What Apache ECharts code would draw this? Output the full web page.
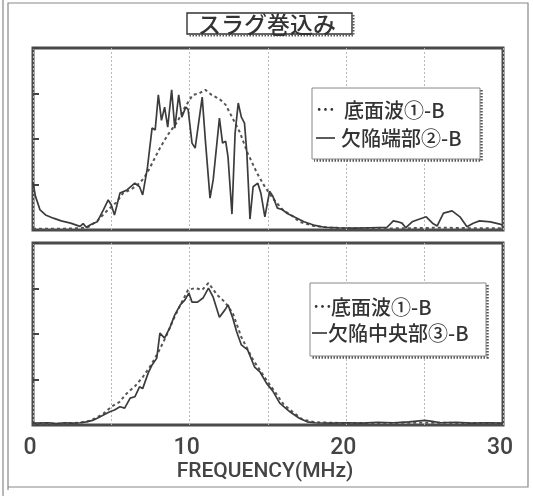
<!DOCTYPE html>
<html><head><meta charset="utf-8">
<script src="https://cdn.jsdelivr.net/npm/echarts@6/dist/echarts.min.js"></script>
<style>html,body{margin:0;padding:0;background:#fff}#c{width:533px;height:496px}</style>
</head><body><div id="c"></div>
<script>
// ---- data (frequency MHz, relative amplitude) ----
const titleText = 'スラグ巻込み';
const xTickLabels = [0, 10, 20, 30];
const xAxisName = 'FREQUENCY(MHz)';
const nameBottom = '底面波①-B';
const nameTopDefect = '欠陥端部②-B';
const nameBottomDefect = '欠陥中央部③-B';

const topSolidF = [0,0.15,0.45,0.8,1.3,1.8,2.4,3.0,3.2,3.4,3.7,4.1,4.5,4.8,5.0,5.2,5.55,6.0,6.5,6.8,7.0,7.3,7.6,7.8,8.0,8.2,8.4,8.6,8.85,9.05,9.3,9.5,9.75,9.9,10.15,10.35,10.8,11.0,11.3,11.5,11.9,12.1,12.3,12.45,12.7,12.9,13.1,13.3,13.5,13.65,13.85,14.05,14.35,14.55,14.8,15.1,15.3,15.6,15.9,16.2,16.85,17.3,18.0,18.6,19.5,20.5,21.5,22.6,23.0,23.3,23.55,23.8,24.2,24.5,25.1,25.5,25.8,26.2,26.75,27.25,27.7,28.1,28.5,29.2,29.8,30];
const topSolidV = [1.05,0.75,0.44,0.33,0.26,0.2,0.15,0.08,0.14,0.06,0.12,0.18,0.45,0.66,0.55,0.33,0.81,0.88,1.03,0.95,0.77,1.36,2.24,2.2,2.97,2.41,2.7,2.26,3.08,2.24,2.97,2.48,2.7,2.65,1.91,1.8,2.92,1.98,0.7,1.1,2.46,1.91,1.95,1.6,0.35,2.13,2.79,2.48,2.35,1.69,0.24,0.95,1.03,0.8,0.29,0.85,0.75,0.48,0.45,0.37,0.26,0.18,0.1,0.06,0.05,0.04,0.05,0.06,0.2,0.18,0.15,0.05,0.18,0.22,0.29,0.15,0.09,0.37,0.42,0.29,0.07,0.15,0.2,0.18,0.13,0.1];

const topDashF = [0,1,2,3,3.5,4.1,4.8,5.3,5.75,6.3,6.8,7.1,7.45,7.8,8.1,8.6,9.2,9.7,10.2,10.6,11.0,11.4,11.9,12.3,12.75,13.2,13.7,14.3,14.8,15.3,15.95,16.6,17.0,17.9,19,20,22,24,26,28,30];
const topDashV = [0.03,0.03,0.03,0.04,0.06,0.2,0.45,0.6,0.81,0.9,1.03,1.15,1.36,1.6,1.8,2.09,2.37,2.7,2.97,3.0,3.08,2.97,2.88,2.75,2.45,2.15,1.69,1.25,0.95,0.7,0.44,0.3,0.18,0.09,0.05,0.04,0.03,0.04,0.05,0.04,0.04];

const botSolidF = [0,1,1.5,2,2.5,3,3.4,3.8,4.1,4.5,4.9,5.2,5.55,5.85,6.2,6.5,6.8,7.0,7.35,7.6,7.9,8.1,8.4,8.75,9.05,9.4,9.7,9.95,10.15,10.5,10.85,11.2,11.5,11.9,12.25,12.45,12.75,13.0,13.3,13.7,14.15,14.5,14.9,15.3,15.75,16.4,17.0,17.5,18,19,20,21,22,23,24,25,25.5,26,27,28,29,30];
const botSolidV = [0.04,0.05,0.03,0.05,0.04,0.05,0.07,0.1,0.15,0.22,0.29,0.33,0.4,0.37,0.59,0.62,0.84,0.8,1.14,1.32,1.47,2.02,1.91,2.15,2.42,2.64,2.75,2.9,2.7,2.7,2.79,3.01,2.81,2.37,2.53,2.64,2.35,2.05,1.76,1.65,1.27,1.16,0.92,0.75,0.48,0.29,0.15,0.07,0.05,0.04,0.05,0.04,0.06,0.05,0.07,0.1,0.08,0.05,0.06,0.04,0.05,0.04];

const botDashF = [0,2,3,3.5,4,4.5,5,5.5,6,6.5,7,7.5,8,8.5,9,9.5,9.9,10.35,10.8,11.2,11.75,12.25,12.75,13.3,14.05,14.9,15.5,16,16.6,17.2,18,20,25,30];
const botDashV = [0.03,0.03,0.05,0.08,0.15,0.25,0.4,0.5,0.7,0.85,1.05,1.3,1.6,1.95,2.35,2.7,2.97,3.01,2.97,3.12,2.86,2.7,2.46,1.93,1.43,0.99,0.7,0.45,0.28,0.12,0.06,0.04,0.05,0.04];

const zip = (a, b) => a.map((x, i) => [x, b[i]]);

const chart = echarts.init(document.getElementById('c'), null, {renderer: 'canvas'});
const ink = '#333';
const jp = '"Noto Sans CJK JP", "Noto Sans", sans-serif';
const narrow = 'Roboto, "Noto Sans", sans-serif';

function xAx(idx, showLabels) {
  return {
    type: 'value', gridIndex: idx, min: 0, max: 30, interval: 5,
    axisLine: {show: false}, axisTick: {show: false},
    splitLine: {show: true, lineStyle: {type: [2, 2], color: '#b8b8b8', width: 1}},
    axisLabel: {
      show: showLabels, margin: 12, fontFamily: narrow, fontSize: 23, fontWeight: 500, color: '#444',
      padding: [0, 6, 0, 0],
      formatter: v => xTickLabels.includes(v) ? String(v) : ''
    },
    name: showLabels ? xAxisName : '', nameLocation: 'middle', nameGap: 34,
    nameTextStyle: {fontFamily: narrow, fontSize: 21, fontWeight: 500, color: '#444', padding: [0, 6, 0, 0]}
  };
}
function yAx(idx) {
  return {
    type: 'value', gridIndex: idx, min: 0, max: 4, interval: 1,
    axisLine: {show: false}, axisLabel: {show: false}, splitLine: {show: false},
    axisTick: {show: true, inside: true, length: 6, lineStyle: {color: '#444', width: 2}}
  };
}
const solid = {type: 'solid', width: 1.7, color: '#3c3c3c'};
const dashed = {type: [3, 3], width: 2, color: '#555'};

function legendBox(x, y, w, h) {
  return [
    {type: 'rect', shape: {x: x, y: y, width: w, height: h}, style: {fill: '#fff', stroke: '#888', lineWidth: 1}, z: 100},
    {type: 'polyline', shape: {points: [[x + w + 1.5, y + 2], [x + w + 1.5, y + h + 1.5], [x + 2, y + h + 1.5]]},
      style: {fill: null, stroke: '#555', lineWidth: 2.5, lineDash: [1.5, 1.5]}, z: 100}
  ];
}
function txt(x, y, s, size, align) {
  return {type: 'text', x: x, y: y, z: 101,
    style: {text: s, fontFamily: jp, fontSize: size, fontWeight: 500, fill: ink,
      textAlign: align || 'left', align: align || 'left', textVerticalAlign: 'middle', verticalAlign: 'middle'}};
}
function dash(x1, x2, y) {
  return {type: 'line', z: 101, shape: {x1: x1, y1: y, x2: x2, y2: y}, style: {stroke: ink, lineWidth: 1.6}};
}

const graphic = [
  // outer double frame
  {type: 'line', shape: {x1: 3, y1: 0, x2: 3, y2: 496}, style: {stroke: '#888', lineWidth: 1.2}},
  {type: 'polyline', shape: {points: [[8, 490], [8, 3], [528, 3], [528, 487], [8, 487]]}, style: {fill: null, stroke: '#888', lineWidth: 1.2}},
  // title box
  {type: 'rect', shape: {x: 187, y: 13, width: 165, height: 21}, style: {fill: '#fff', stroke: '#333', lineWidth: 1.4}},
  {type: 'polyline', shape: {points: [[353.5, 15], [353.5, 35.5], [189, 35.5]]}, style: {fill: null, stroke: '#555', lineWidth: 2, lineDash: [1.5, 1.5]}},
  txt(267, 24, titleText, 23, 'center'),
  ...legendBox(312, 88, 168, 71),
  txt(316, 110, '⋯', 19),
  txt(344, 110, nameBottom, 20),
  dash(316, 335, 138),
  txt(341, 138, nameTopDefect, 20),
  ...legendBox(310, 283, 176, 73),
  txt(313, 307, '⋯', 19),
  txt(331, 307, nameBottom, 20),
  dash(312, 327, 333),
  txt(328, 333, nameBottomDefect, 20)
];

chart.setOption({
  animation: false,
  backgroundColor: '#fff',
  grid: [
    {left: 33, top: 48, width: 470, height: 182, show: true, backgroundColor: '#fff', borderColor: '#4a4a4a', borderWidth: 3},
    {left: 33, top: 243, width: 470, height: 182, show: true, backgroundColor: '#fff', borderColor: '#4a4a4a', borderWidth: 3}
  ],
  xAxis: [xAx(0, false), xAx(1, true)],
  yAxis: [yAx(0), yAx(1)],
  graphic: graphic,
  series: [
    {name: nameBottom, type: 'line', xAxisIndex: 0, yAxisIndex: 0, data: zip(topDashF, topDashV), showSymbol: false, lineStyle: dashed, z: 3},
    {name: nameTopDefect, type: 'line', xAxisIndex: 0, yAxisIndex: 0, data: zip(topSolidF, topSolidV), showSymbol: false, lineStyle: solid, z: 4},
    {name: nameBottom, type: 'line', xAxisIndex: 1, yAxisIndex: 1, data: zip(botDashF, botDashV), showSymbol: false, lineStyle: dashed, z: 3},
    {name: nameBottomDefect, type: 'line', xAxisIndex: 1, yAxisIndex: 1, data: zip(botSolidF, botSolidV), showSymbol: false, lineStyle: solid, z: 4}
  ]
});
</script></body></html>
